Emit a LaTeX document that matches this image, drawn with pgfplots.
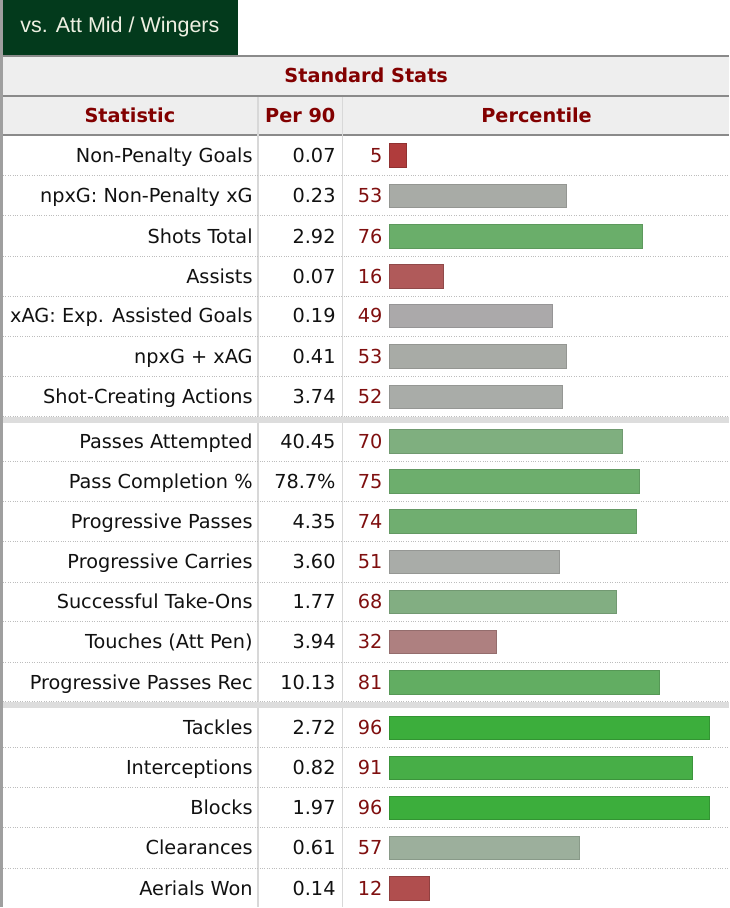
\documentclass[border=0pt]{standalone}
\usepackage{fontspec}
\setmainfont{DejaVu Sans}
\newfontfamily\tabfont{Liberation Sans}
\usepackage{pgfplots}
\pgfplotsset{compat=1.18}
\definecolor{tabgreen}{HTML}{033A1C}
\definecolor{tabtext}{HTML}{EEF0E2}
\definecolor{hdrbg}{HTML}{EEEEEE}
\definecolor{hdrline}{HTML}{8A8A8A}
\definecolor{vline}{HTML}{D8D8D8}
\definecolor{dotcol}{HTML}{BDBDBD}
\definecolor{band}{HTML}{DDDDDD}
\definecolor{hdrred}{HTML}{820000}
\definecolor{pctred}{HTML}{7F0F0F}
\definecolor{txt}{HTML}{111111}
\definecolor{cA}{HTML}{B03C3C}
\definecolor{cB}{HTML}{A8ABA6}
\definecolor{cC}{HTML}{6AAE6A}
\definecolor{cD}{HTML}{B05A5A}
\definecolor{cE}{HTML}{ABA9AA}
\definecolor{cF}{HTML}{A8ABA6}
\definecolor{cG}{HTML}{A9ACA8}
\definecolor{cH}{HTML}{7FAF7F}
\definecolor{cI}{HTML}{6DAE6D}
\definecolor{cJ}{HTML}{70AE70}
\definecolor{cK}{HTML}{A9ACA8}
\definecolor{cL}{HTML}{82AE82}
\definecolor{cM}{HTML}{AE8080}
\definecolor{cN}{HTML}{62AD62}
\definecolor{cO}{HTML}{3CAE3C}
\definecolor{cP}{HTML}{47AE47}
\definecolor{cQ}{HTML}{3CAE3C}
\definecolor{cR}{HTML}{9CAF9C}
\definecolor{cS}{HTML}{B04E4E}
\newcommand{\bodyfont}{\fontsize{19.3}{22}\selectfont}
\newcommand{\boldhdr}{\fontsize{19.3}{22}\selectfont\bfseries}
\tikzset{
  lab/.style={anchor=east, inner sep=0pt, text height=13.9pt, text depth=0pt, font=\bodyfont, text=txt},
  pct/.style={anchor=east, inner sep=0pt, text height=13.9pt, text depth=0pt, font=\bodyfont, text=pctred},
  hdr/.style={anchor=center, inner sep=0pt, text height=14pt, text depth=0pt, font=\boldhdr, text=hdrred},
  dotl/.style={dotcol, line width=1pt, dash pattern=on 1pt off 1.4pt}
}
\begin{document}
\begin{tikzpicture}
\begin{axis}[at={(0pt,0pt)}, anchor=south west, scale only axis, width=730pt, height=908pt,
  xmin=0, xmax=730, ymin=0, ymax=908, y dir=reverse, hide axis, clip=false]
% tab
\fill[tabgreen] (axis cs:3,0) rectangle (axis cs:238,55);
\node[font=\tabfont\fontsize{21.5}{24}\selectfont, text=tabtext, inner sep=0pt] at (axis cs:120,27) {vs. Att Mid / Wingers};
% header rows
\fill[hdrbg] (axis cs:3,57) rectangle (axis cs:730,95);
\fill[hdrbg] (axis cs:3,97) rectangle (axis cs:730,134.5);
\fill[hdrline] (axis cs:3,55) rectangle (axis cs:730,57);
\fill[hdrline] (axis cs:3,95) rectangle (axis cs:730,97);
\fill[hdrline] (axis cs:3,134.5) rectangle (axis cs:730,136.5);
\fill[gray!75] (axis cs:0,0) rectangle (axis cs:3,908);
% vertical cell lines
\draw[vline, line width=1.5pt] (axis cs:258,97) -- (axis cs:258,908);
\draw[vline, line width=1.5pt] (axis cs:343,97) -- (axis cs:343,908);
% bands
\fill[band] (axis cs:3,417.5) rectangle (axis cs:730,423.5);
\fill[band] (axis cs:3,703) rectangle (axis cs:730,709);
% dotted separators
\draw[dotl] (axis cs:3,176) -- (axis cs:730,176);
\draw[dotl] (axis cs:3,216) -- (axis cs:730,216);
\draw[dotl] (axis cs:3,256.5) -- (axis cs:730,256.5);
\draw[dotl] (axis cs:3,296.5) -- (axis cs:730,296.5);
\draw[dotl] (axis cs:3,336.5) -- (axis cs:730,336.5);
\draw[dotl] (axis cs:3,377) -- (axis cs:730,377);
\draw[dotl] (axis cs:3,416.5) -- (axis cs:730,416.5);
\draw[dotl] (axis cs:3,462) -- (axis cs:730,462);
\draw[dotl] (axis cs:3,502) -- (axis cs:730,502);
\draw[dotl] (axis cs:3,542) -- (axis cs:730,542);
\draw[dotl] (axis cs:3,582.5) -- (axis cs:730,582.5);
\draw[dotl] (axis cs:3,622.5) -- (axis cs:730,622.5);
\draw[dotl] (axis cs:3,663) -- (axis cs:730,663);
\draw[dotl] (axis cs:3,702) -- (axis cs:730,702);
\draw[dotl] (axis cs:3,748.5) -- (axis cs:730,748.5);
\draw[dotl] (axis cs:3,788.5) -- (axis cs:730,788.5);
\draw[dotl] (axis cs:3,828.5) -- (axis cs:730,828.5);
\draw[dotl] (axis cs:3,869) -- (axis cs:730,869);
% header texts
\node[hdr] at (axis cs:366.5,76) {Standard Stats};
\node[hdr] at (axis cs:130,116) {Statistic};
\node[hdr] at (axis cs:300.5,116) {Per 90};
\node[hdr] at (axis cs:537,116) {Percentile};
% rows
\node[lab] at (axis cs:253,155.5) {Non-Penalty Goals};
\node[lab] at (axis cs:336,155.5) {0.07};
\node[pct] at (axis cs:383,155.5) {5};
\node[lab] at (axis cs:253,196) {npxG: Non-Penalty xG};
\node[lab] at (axis cs:336,196) {0.23};
\node[pct] at (axis cs:383,196) {53};
\node[lab] at (axis cs:253,236.5) {Shots Total};
\node[lab] at (axis cs:336,236.5) {2.92};
\node[pct] at (axis cs:383,236.5) {76};
\node[lab] at (axis cs:253,276.5) {Assists};
\node[lab] at (axis cs:336,276.5) {0.07};
\node[pct] at (axis cs:383,276.5) {16};
\node[lab] at (axis cs:253,316) {xAG: Exp. Assisted Goals};
\node[lab] at (axis cs:336,316) {0.19};
\node[pct] at (axis cs:383,316) {49};
\node[lab] at (axis cs:253,356.5) {npxG + xAG};
\node[lab] at (axis cs:336,356.5) {0.41};
\node[pct] at (axis cs:383,356.5) {53};
\node[lab] at (axis cs:253,397) {Shot-Creating Actions};
\node[lab] at (axis cs:336,397) {3.74};
\node[pct] at (axis cs:383,397) {52};
\node[lab] at (axis cs:253,442) {Passes Attempted};
\node[lab] at (axis cs:336,442) {40.45};
\node[pct] at (axis cs:383,442) {70};
\node[lab] at (axis cs:253,482) {Pass Completion \%};
\node[lab] at (axis cs:336,482) {78.7\%};
\node[pct] at (axis cs:383,482) {75};
\node[lab] at (axis cs:253,522) {Progressive Passes};
\node[lab] at (axis cs:336,522) {4.35};
\node[pct] at (axis cs:383,522) {74};
\node[lab] at (axis cs:253,562.5) {Progressive Carries};
\node[lab] at (axis cs:336,562.5) {3.60};
\node[pct] at (axis cs:383,562.5) {51};
\node[lab] at (axis cs:253,602.5) {Successful Take-Ons};
\node[lab] at (axis cs:336,602.5) {1.77};
\node[pct] at (axis cs:383,602.5) {68};
\node[lab] at (axis cs:253,642.5) {Touches (Att Pen)};
\node[lab] at (axis cs:336,642.5) {3.94};
\node[pct] at (axis cs:383,642.5) {32};
\node[lab] at (axis cs:253,683) {Progressive Passes Rec};
\node[lab] at (axis cs:336,683) {10.13};
\node[pct] at (axis cs:383,683) {81};
\node[lab] at (axis cs:253,728.5) {Tackles};
\node[lab] at (axis cs:336,728.5) {2.72};
\node[pct] at (axis cs:383,728.5) {96};
\node[lab] at (axis cs:253,768.5) {Interceptions};
\node[lab] at (axis cs:336,768.5) {0.82};
\node[pct] at (axis cs:383,768.5) {91};
\node[lab] at (axis cs:253,808.5) {Blocks};
\node[lab] at (axis cs:336,808.5) {1.97};
\node[pct] at (axis cs:383,808.5) {96};
\node[lab] at (axis cs:253,848.5) {Clearances};
\node[lab] at (axis cs:336,848.5) {0.61};
\node[pct] at (axis cs:383,848.5) {57};
\node[lab] at (axis cs:253,889) {Aerials Won};
\node[lab] at (axis cs:336,889) {0.14};
\node[pct] at (axis cs:383,889) {12};
\end{axis}
% bar axis
\begin{axis}[at={(390pt,0pt)}, anchor=south west, scale only axis, width=333pt, height=908pt,
  xmin=0, xmax=100, ymin=0, ymax=908, y dir=reverse, hide axis, clip=false,
  every axis plot/.append style={xbar, bar width=23.5pt, bar shift=0pt, line width=0.8pt}]
\addplot[fill=cA, draw=cA!82!black] coordinates {(5,155.5)};
\addplot[fill=cB, draw=cB!88!black] coordinates {(53,196)};
\addplot[fill=cC, draw=cC!88!black] coordinates {(76,236.5)};
\addplot[fill=cD, draw=cD!82!black] coordinates {(16,276.5)};
\addplot[fill=cE, draw=cE!88!black] coordinates {(49,316)};
\addplot[fill=cF, draw=cF!88!black] coordinates {(53,356.5)};
\addplot[fill=cG, draw=cG!88!black] coordinates {(52,397)};
\addplot[fill=cH, draw=cH!88!black] coordinates {(70,442)};
\addplot[fill=cI, draw=cI!88!black] coordinates {(75,482)};
\addplot[fill=cJ, draw=cJ!88!black] coordinates {(74,522)};
\addplot[fill=cK, draw=cK!88!black] coordinates {(51,562.5)};
\addplot[fill=cL, draw=cL!88!black] coordinates {(68,602.5)};
\addplot[fill=cM, draw=cM!85!black] coordinates {(32,642.5)};
\addplot[fill=cN, draw=cN!88!black] coordinates {(81,683)};
\addplot[fill=cO, draw=cO!85!black] coordinates {(96,728.5)};
\addplot[fill=cP, draw=cP!85!black] coordinates {(91,768.5)};
\addplot[fill=cQ, draw=cQ!85!black] coordinates {(96,808.5)};
\addplot[fill=cR, draw=cR!88!black] coordinates {(57,848.5)};
\addplot[fill=cS, draw=cS!82!black] coordinates {(12,889)};
\end{axis}
\end{tikzpicture}
\end{document}
